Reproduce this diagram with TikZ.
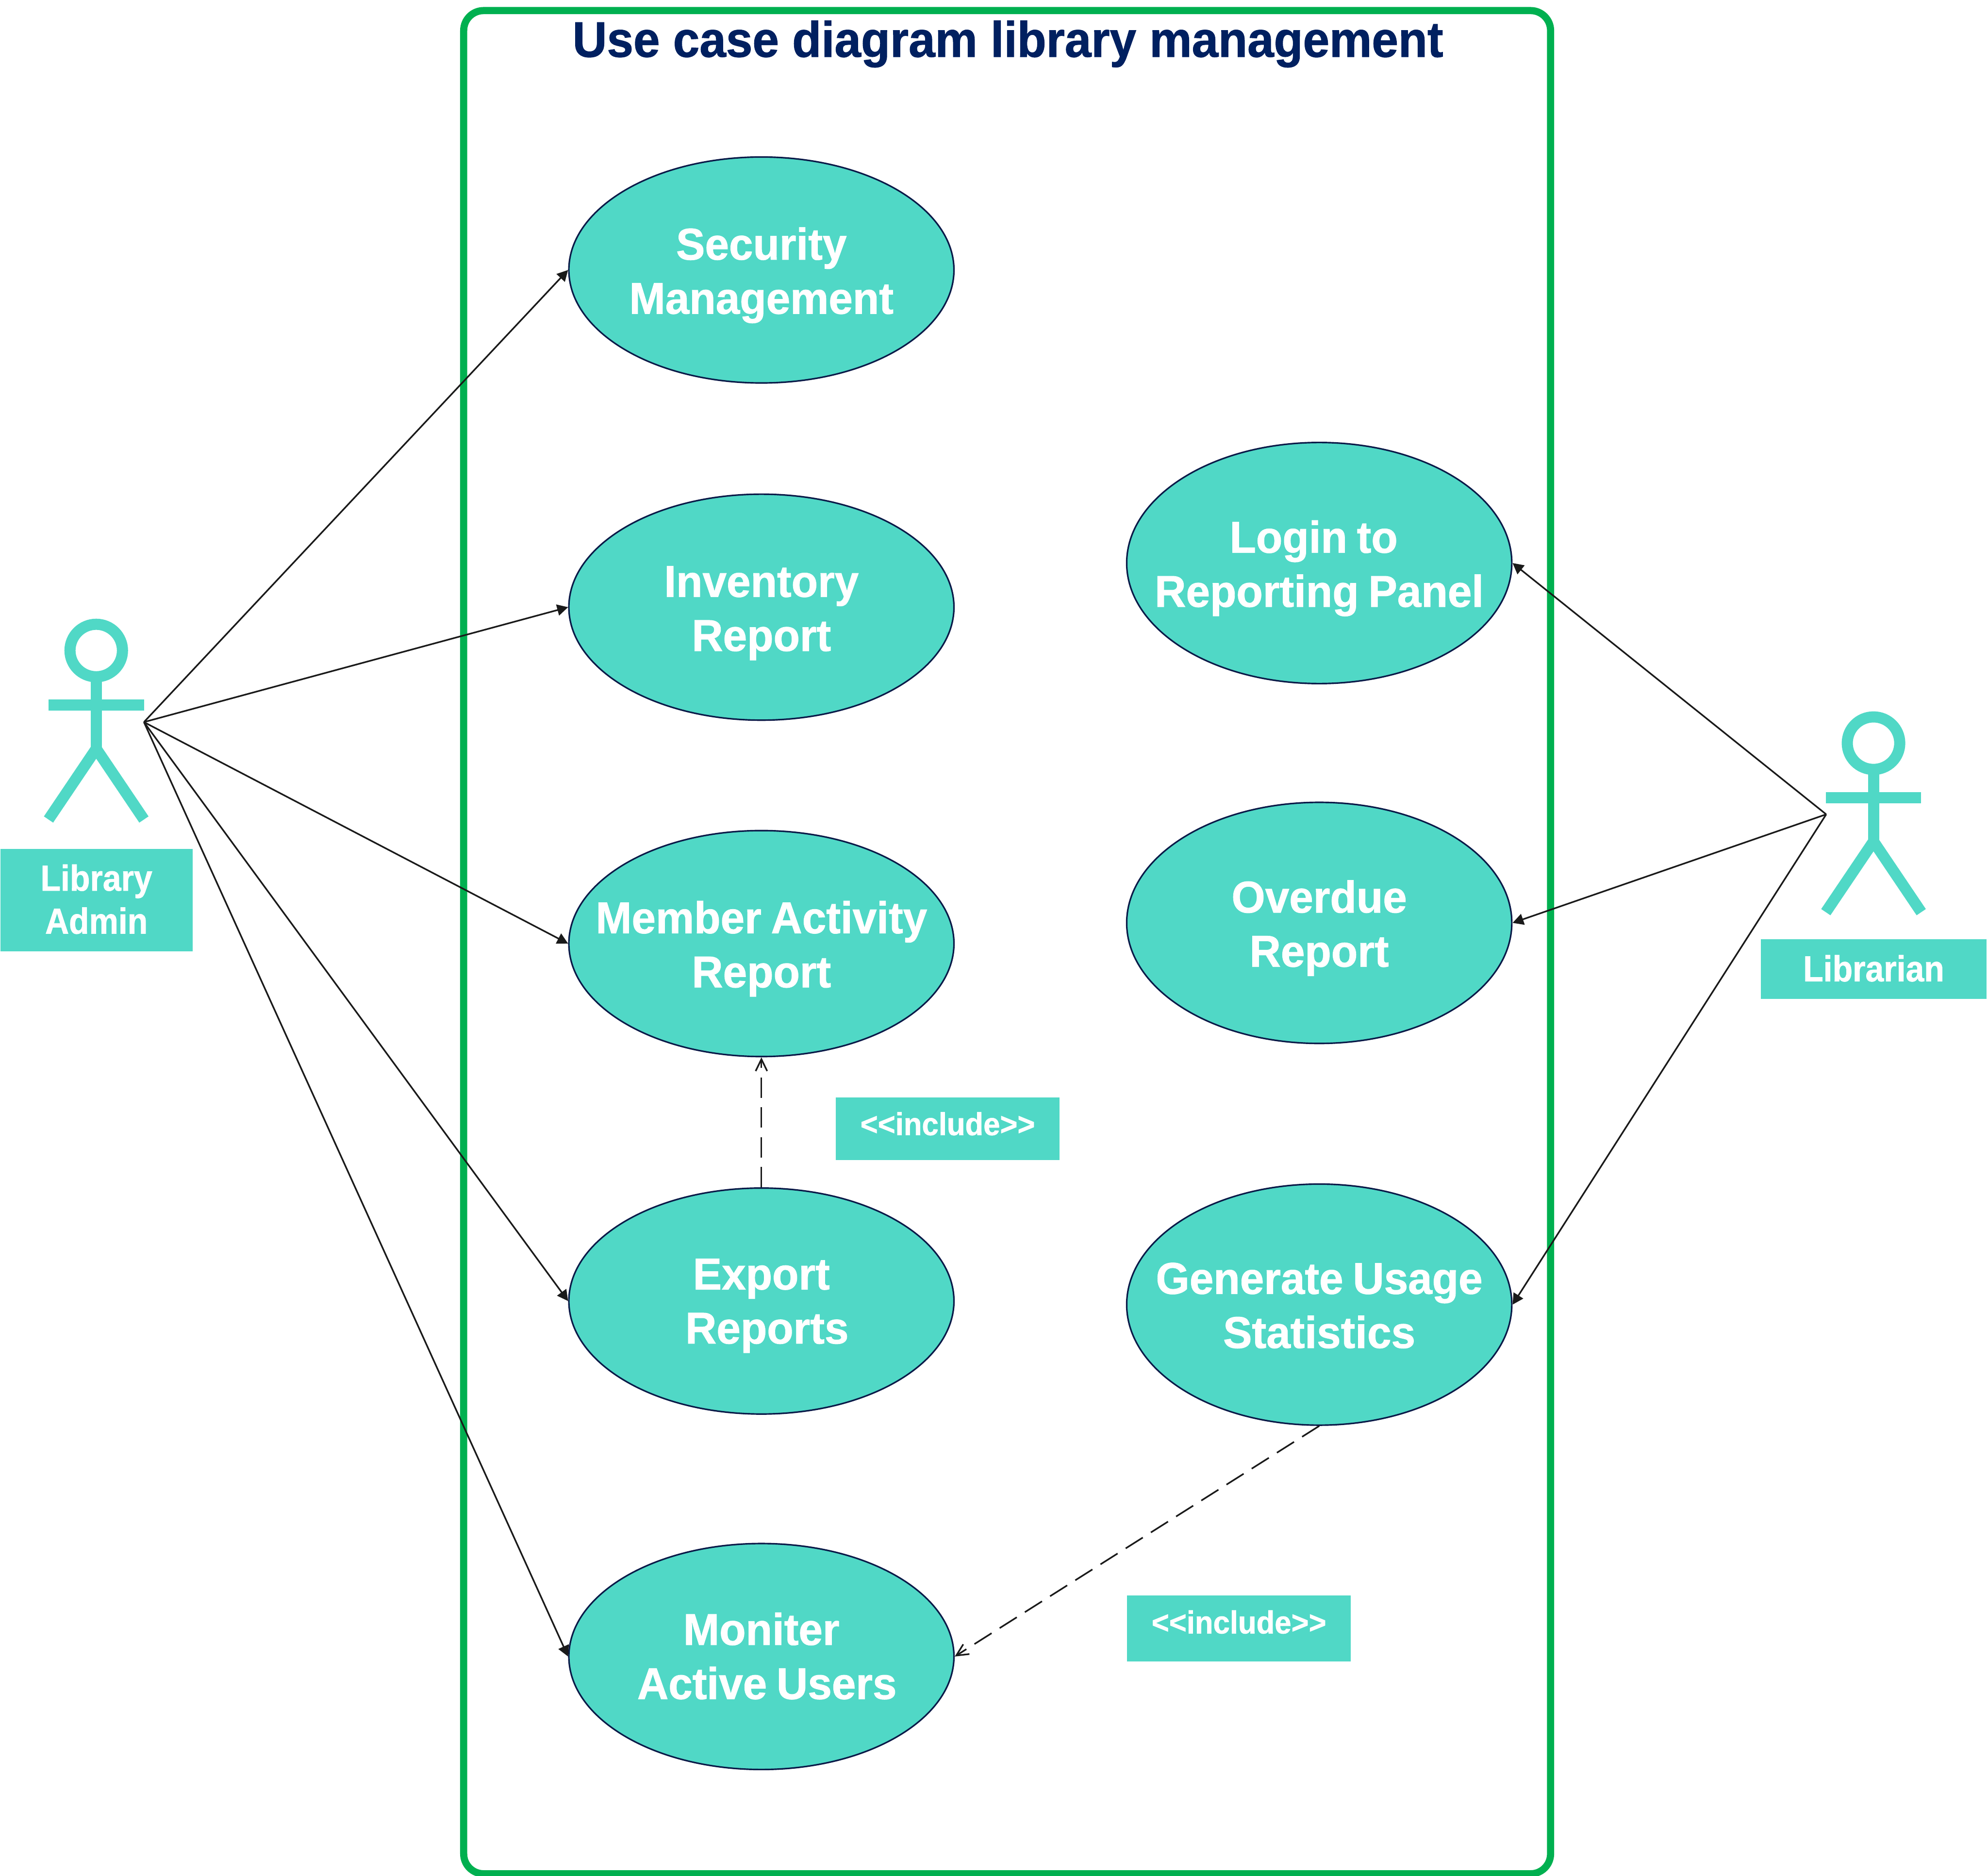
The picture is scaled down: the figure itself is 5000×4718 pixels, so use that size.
\documentclass[tikz,border=0pt]{standalone}
\usepackage{fontspec}
\usetikzlibrary{arrows.meta,shapes.geometric}
\setmainfont{Liberation Sans}
\newfontfamily\fTitle{Liberation Sans}[FakeStretch=0.95,FakeBold=1]
\newfontfamily\fCase{Liberation Sans}[FakeStretch=0.97,FakeBold=1,WordSpace=0.8]
\newfontfamily\fActor{Liberation Sans}[FakeStretch=0.91,FakeBold=1]
\newfontfamily\fIncl{Liberation Sans}[FakeStretch=0.94,FakeBold=1]
\definecolor{ucTeal}{HTML}{50D8C6}
\definecolor{ucGreen}{HTML}{00B050}
\definecolor{ucNavy}{HTML}{002060}
\definecolor{ucLine}{HTML}{0A1A48}
\definecolor{ucInk}{HTML}{1A1A1A}
% text box of no size, so the shapes keep their own size; #1 lowers the last baseline
\newcommand\lbl[2]{\makebox[0pt][c]{\raisebox{#1}[0pt][0pt]{#2}}}
\newcommand\twol[2]{\vbox{\halign{\hfil##\hfil\cr #1\cr #2\cr}}}
\tikzset{
  usecase/.style={ellipse,draw=ucLine,fill=ucTeal,line width=1.1pt,inner sep=0pt,
    minimum width=9.68cm,text=white,
    font=\fCase\bfseries\fontsize{31.87pt}{38.7pt}\selectfont},
  ucshort/.style={usecase,minimum height=5.68cm},
  uctall/.style={usecase,minimum height=6.06cm},
  tag/.style={rectangle,fill=ucTeal,inner sep=0pt,text=white},
  acttag/.style={tag,font=\fActor\bfseries\fontsize{25.9pt}{30.73pt}\selectfont},
  incltag/.style={tag,minimum width=5.63cm,
    font=\fIncl\bfseries\fontsize{22.76pt}{27pt}\selectfont},
  assoc/.style={draw=ucInk,line width=1.15pt,-{Triangle[length=7.8pt,width=8pt]}},
  incl/.style={draw=ucInk,line width=1.15pt,dash pattern=on 14.5pt off 6.83pt,
    -{Straight Barb[length=8.5pt,width=8.25pt]}},
  actorline/.style={draw=ucTeal,line width=7.97pt,line cap=butt,line join=miter},
  pics/actorfig/.style={code={
    \draw[actorline] (0,0) circle [radius=66];
    \draw[actorline] (0,66) -- (0,247);
    \draw[actorline] (-120,137) -- (120,137);
    \draw[actorline] (-120,425) -- (0,247) -- (120,425);
  }}
}
\begin{document}
\begin{tikzpicture}[x=0.01cm,y=-0.01cm]
\useasboundingbox (0,0) rectangle (5000,4718);
\node[rectangle,draw=ucGreen,line width=5.12pt,rounded corners=0.5cm,inner sep=0pt,
  minimum width=27.32cm,minimum height=46.83cm] (frame) at (2533,2369.5) {};
\node[anchor=base,text=ucNavy,inner sep=0pt,
  font=\fTitle\bfseries\fontsize{35.85pt}{43pt}\selectfont] (title) at (2535,143)
  {Use case diagram library management};

\node[ucshort] (security) at (1915,679) {\lbl{-31.3pt}{\twol{Security}{Management}}};
\node[ucshort] (inventory) at (1915,1527) {\lbl{-31.3pt}{\twol{Inventory}{Report}}};
\node[ucshort] (member) at (1915,2373) {\lbl{-31.3pt}{\twol{Member Activity}{Report}}};
\node[ucshort] (export) at (1915,3272) {\lbl{-30.4pt}{\twol{Export}{\kern8pt Reports}}};
\node[ucshort] (monitor) at (1915,4166) {\lbl{-30.4pt}{\twol{Moniter}{\kern8pt Active Users}}};
\node[uctall] (login) at (3318,1416) {\lbl{-31.3pt}{\twol{Login to\kern8pt}{Reporting Panel}}};
\node[uctall] (overdue) at (3318,2321) {\lbl{-31.3pt}{\twol{Overdue}{Report}}};
\node[uctall] (usage) at (3318,3281) {\lbl{-31pt}{\twol{Generate Usage}{Statistics}}};

\pic at (242,1636) {actorfig};
\pic at (4712,1869) {actorfig};
\node[acttag,minimum width=4.83cm,minimum height=2.57cm] (admintag) at (242.5,2263.5)
  {\lbl{-24.04pt}{\twol{Library}{Admin}}};
\node[acttag,minimum width=5.67cm,minimum height=1.5cm] (libtag) at (4712.5,2437)
  {\lbl{-8.8pt}{Librarian}};
\node[incltag,minimum height=1.565cm] (inclA) at (2383.5,2838.75) {\lbl{-4.55pt}{<{}<include>{}>}};
\node[incltag,minimum height=1.66cm] (inclB) at (3116,4095) {\lbl{-3.7pt}{<{}<include>{}>}};

\coordinate (adminport) at (362,1816);
\coordinate (libport) at (4593,2048);
\draw[assoc] (adminport) -- (security.west);
\draw[assoc] (adminport) -- (inventory.west);
\draw[assoc] (adminport) -- (member.west);
\draw[assoc] (adminport) -- (export.west);
\draw[assoc] (adminport) -- (monitor.west);
\draw[assoc] (libport) -- (login.east);
\draw[assoc] (libport) -- (overdue.east);
\draw[assoc] (libport) -- (usage.east);
\draw[incl] (export.north) -- (member.south);
\draw[incl] (usage.south) -- (monitor.east);
\end{tikzpicture}
\end{document}
